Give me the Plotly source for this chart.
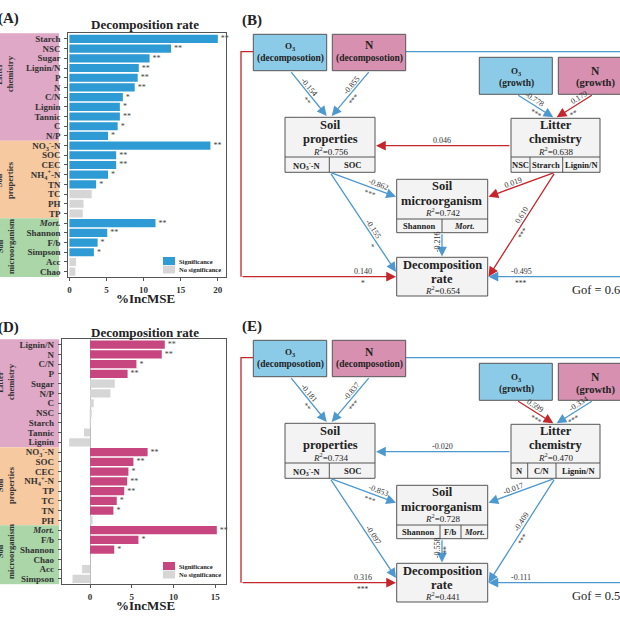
import math
import plotly.graph_objects as go

W, H = 620, 621
FONT = "Liberation Serif"

NO3 = "NO<sub>3</sub><sup>-</sup>-N"
NH4 = "NH<sub>4</sub><sup>+</sup>-N"
MORT = "<i>Mort.</i>"

# (A) %IncMSE for decomposition rate
a_vars = ["Starch", "NSC", "Sugar", "Lignin/N", "P", "N", "C/N", "Lignin", "Tannic", "C", "N/P",
          NO3, "SOC", "CEC", NH4, "TN", "TC", "PH", "TP",
          MORT, "Shannon", "F/b", "Simpson", "Acc", "Chao"]
a_imp = [20.0, 13.7, 10.8, 9.35, 9.2, 8.8, 7.2, 6.8, 6.8, 6.5, 5.2,
         19.0, 6.3, 6.3, 5.2, 3.6, 3.0, 1.9, 1.8,
         11.6, 5.1, 3.8, 3.3, 0.9, 0.8]
a_sig = ["**", "**", "**", "**", "**", "**", "*", "*", "**", "*", "*",
         "**", "**", "**", "*", "*", "", "", "",
         "**", "**", "*", "*", "", ""]

# (D) %IncMSE for decomposition rate
d_vars = ["Lignin/N", "N", "C/N", "P", "Sugar", "N/P", "C", "NSC", "Starch", "Tannic", "Lignin",
          NO3, "SOC", "CEC", NH4, "TP", "TC", "TN", "PH",
          MORT, "F/b", "Shannon", "Chao", "Acc", "Simpson"]
d_imp = [8.96, 8.6, 5.56, 4.5, 2.96, 2.44, 0.44, 0.2, 0.05, -0.72, -2.5,
         6.9, 5.2, 4.6, 4.45, 4.1, 3.2, 2.8, 0.3,
         15.2, 5.8, 2.9, 0.0, -0.95, -2.1]
d_sig = ["**", "**", "*", "**", "", "", "", "", "", "", "",
         "**", "**", "*", "**", "**", "*", "*", "",
         "**", "*", "*", "", "", ""]

groups = ["Litter<br>chemistry", "Soil<br>properties", "Soil<br>microorganism"]
group_sizes = [11, 8, 6]

# (B)/(E) path coefficients: O3d->SP, Nd->SP, O3g->LC, Ng->LC, LC->SP, SP->SM,
# SP->DR, LC->SM, LC->DR, SM->DR, O3d->DR, Nd->DR
b_coef = [-0.154, -0.855, -0.778, 0.179, 0.046, -0.862, -0.155, 0.019, 0.610, -0.216, 0.140, -0.495]
b_sig = ["**", "***", "***", "**", "", "***", "*", "", "***", "", "*", "***"]
e_coef = [-0.181, -0.837, 0.599, -0.334, -0.020, -0.853, -0.097, -0.017, -0.409, -0.558, 0.316, -0.111]
e_sig = ["**", "***", "***", "***", "", "***", "", "", "***", "**", "***", ""]
b_r2 = [0.756, 0.638, 0.742, 0.654]   # soil prop., litter, microorganism, decomposition
e_r2 = [0.734, 0.470, 0.728, 0.441]
b_gof, e_gof = "0.6", "0.5"
b_lc_ind = ["NSC", "Strarch", "Lignin/N"]
e_lc_ind = ["N", "C/N", "Lignin/N"]
b_sm_ind = ["Shannon", MORT]
e_sm_ind = ["Shannon", "F/b", MORT]
sp_ind = [NO3, "SOC"]

BAR_BLUE, BAR_PINK, BAR_GREY = "#2e9bd4", "#c8467f", "#d6d6d6"
RED, BLUE = "#c4262c", "#4d98cf"
BANDS = ["#dfa8c7", "#f6c9a1", "#aad6a8"]

shapes, annots = [], []


def px(x, y, s, size, bold=False, angle=0, color="#222", xanchor="center"):
    annots.append(dict(xref="paper", yref="paper", x=x / W, y=1 - y / H, text=s, showarrow=False,
                       font=dict(family=FONT, size=size, color=color,
                                 weight="bold" if bold else "normal"),
                       textangle=angle, xanchor=xanchor, yanchor="middle"))


fig = go.Figure()
for vars_, imp, sig, col, xa, ya in [(a_vars, a_imp, a_sig, BAR_BLUE, "x", "y"),
                                      (d_vars, d_imp, d_sig, BAR_PINK, "x2", "y2")]:
    fig.add_trace(go.Bar(y=vars_, x=imp, orientation="h", width=0.84,
                         marker=dict(color=[col if s else BAR_GREY for s in sig], line=dict(width=0)),
                         text=sig, textposition="outside", cliponaxis=False, constraintext="none",
                         textfont=dict(family=FONT, size=8, color="#444"),
                         xaxis=xa, yaxis=ya, hoverinfo="skip"))
    # group bands
    bounds = [-0.6, 10.5, 18.5, 24.6]
    for i, c in enumerate(BANDS):
        shapes.append(dict(type="rect", xref="paper", yref=ya, x0=0, x1=59 / W,
                           y0=bounds[i], y1=bounds[i + 1], fillcolor=c, line=dict(width=0), layer="below"))

fig.add_trace(go.Scatter(x=[None], y=[None], xaxis="x3", yaxis="y3", hoverinfo="skip"))

# bar panel texts
for lab, ly, ty, xy, cx, labs in [("(A)", 18, 25, 298, 145, [74, 180, 247]),
                                    ("(D)", 327, 332, 605, 145, [382, 485, 552])]:
    px(-4, ly, "<b>%s</b>" % lab, 15, xanchor="left")
    px(cx, ty, "<b>Decomposition rate</b>", 13)
    px(cx, xy, "<b>%IncMSE</b>", 13)
    for g, yy in zip(groups, labs):
        px(5, yy, "<b>%s</b>" % g, 8.5, angle=-90, color="#333")

# legends
for y0, col in [(257, BAR_BLUE), (562, BAR_PINK)]:
    shapes.append(dict(type="rect", xref="x3", yref="y3", x0=163, x1=175, y0=y0, y1=y0 + 8,
                       fillcolor=col, line=dict(width=0)))
    shapes.append(dict(type="rect", xref="x3", yref="y3", x0=163, x1=175, y0=y0 + 8.5, y1=y0 + 16.5,
                       fillcolor=BAR_GREY, line=dict(width=0)))
    px(177, y0 + 4, "<b>Significance</b>", 6.5, xanchor="left")
    px(177, y0 + 12.5, "<b>No significance</b>", 6.5, xanchor="left")


def box(x0, y0, x1, y1, fill="#f3f3f3"):
    shapes.append(dict(type="rect", xref="x3", yref="y3", x0=x0, y0=y0, x1=x1, y1=y1,
                       fillcolor=fill, line=dict(color="#555", width=1), layer="above"))


def hline(x0, x1, y):
    shapes.append(dict(type="line", xref="x3", yref="y3", x0=x0, x1=x1, y0=y, y1=y,
                       line=dict(color="#555", width=1)))


def vline(x, y0, y1):
    shapes.append(dict(type="line", xref="x3", yref="y3", x0=x, x1=x, y0=y0, y1=y1,
                       line=dict(color="#555", width=1)))


def arrow(tail, head, color):
    annots.append(dict(xref="x3", yref="y3", axref="x3", ayref="y3", x=head[0], y=head[1],
                       ax=tail[0], ay=tail[1], text="", showarrow=True, arrowhead=2,
                       arrowsize=1.5, arrowwidth=1.3, arrowcolor=color, standoff=0))


def label(tail, head, t, ts, val, stars):
    dx, dy = head[0] - tail[0], head[1] - tail[1]
    ang = math.degrees(math.atan2(dy, dx))
    if ang >= 90:
        ang -= 180
    if ang < -90:
        ang += 180
    r = math.radians(ang)
    ux, uy = math.sin(r), -math.cos(r)
    x, y = tail[0] + t * dx, tail[1] + t * dy
    px(x + 5 * ux, y + 5 * uy, "%.3f" % val, 8, angle=ang, color="#333")
    if stars:
        x, y = tail[0] + ts * dx, tail[1] + ts * dy
        px(x - 5 * ux, y - 5 * uy + 1.5, stars, 7.5, angle=ang, color="#333")


# path geometry (panel B frame): tail, head, t value, t stars
geom = [((290, 70.7), (326.7, 116), 0.43, 0.56),
        ((370, 70.7), (331.7, 116), 0.39, 0.53),
        ((516.7, 94.3), (553.3, 117.3), 0.42, 0.6),
        ((593.3, 94.3), (556.7, 117.3), 0.32, 0.6),
        ((511, 145.7), (376, 145.7), 0.51, 0.51),
        ((330, 172.3), (396, 196.7), 0.71, 0.63),
        ((330, 172.3), (396, 272), 0.6, 0.7),
        ((555, 172.3), (488.5, 196.7), 0.6, 0.6),
        ((555, 172.3), (488.5, 276.7), 0.44, 0.54),
        ((442, 232.7), (442, 256.5), 0.4, 0.4),
        ((241, 276.7), (396, 276.7), 0.79, 0.79),
        ((630, 276.7), (488.5, 276.7), 0.77, 0.77)]


def diagram(dy, tag, coef, sig, r2, lc_ind, lc_cuts, sm_ind, sm_cuts, gof):
    Y = lambda v: v + dy
    px(240, Y(20), "<b>%s</b>" % tag, 15, xanchor="left")
    # outer connector lines
    shapes.append(dict(type="path", xref="x3", yref="y3",
                       path="M 253.3,%.1f L 241,%.1f L 241,%.1f" % (Y(51.7), Y(51.7), Y(276.7)),
                       line=dict(color=RED if coef[10] > 0 else BLUE, width=1.3)))
    shapes.append(dict(type="path", xref="x3", yref="y3",
                       path="M 405.7,%.1f L 640,%.1f" % (Y(51.7), Y(51.7)),
                       line=dict(color=RED if coef[11] > 0 else BLUE, width=1.3)))
    # driver boxes
    box(253.3, Y(34.3), 326.7, Y(70.7), "#8ccbe7")
    box(332.3, Y(34.3), 405.7, Y(70.7), "#d890b1")
    box(479.3, Y(57.3), 552.3, Y(94.3), "#8ccbe7")
    box(558.3, Y(57.3), 631.3, Y(94.3), "#d890b1")
    px(290, Y(46), "<b>O<sub>3</sub></b>", 9)
    px(290, Y(58.5), "<b>(decomposotion)</b>", 9.5)
    px(369, Y(45.5), "<b>N</b>", 11.5)
    px(369, Y(58.5), "<b>(decomposotion)</b>", 9.5)
    px(516, Y(71.5), "<b>O<sub>3</sub></b>", 9)
    px(516, Y(83), "<b>(growth)</b>", 9.5)
    px(595, Y(71), "<b>N</b>", 11.5)
    px(595, Y(83.5), "<b>(growth)</b>", 10.5)
    # soil properties
    box(285, Y(117.3), 375, Y(172.3))
    hline(285, 375, Y(157))
    vline(329.3, Y(157), Y(172.3))
    px(330, Y(124.5), "<b>Soil</b>", 12.5)
    px(330, Y(139), "<b>properties</b>", 12.5)
    px(330, Y(151.3), "<i>R</i><sup>2</sup>=%.3f" % r2[0], 9)
    for s, cx in zip(sp_ind, [307, 352]):
        px(cx, Y(165), "<b>%s</b>" % s, 8.5)
    # litter chemistry
    box(511, Y(118.3), 600, Y(172.3))
    hline(511, 600, Y(157))
    edges = [511] + lc_cuts + [600]
    for c in lc_cuts:
        vline(c, Y(157), Y(172.3))
    px(555.5, Y(124.5), "<b>Litter</b>", 12.5)
    px(555.5, Y(139), "<b>chemistry</b>", 12.5)
    px(555.5, Y(151.3), "<i>R</i><sup>2</sup>=%.3f" % r2[1], 9)
    for i, s in enumerate(lc_ind):
        px((edges[i] + edges[i + 1]) / 2, Y(165), "<b>%s</b>" % s, 8.5)
    # soil microorganism
    box(396.7, Y(179.3), 487.7, Y(232.7))
    hline(396.7, 487.7, Y(219))
    edges = [396.7] + sm_cuts + [487.7]
    for c in sm_cuts:
        vline(c, Y(219), Y(232.7))
    px(442.2, Y(185.5), "<b>Soil</b>", 12.5)
    px(442.2, Y(200.5), "<b>microorganism</b>", 12.5)
    px(442.2, Y(212.3), "<i>R</i><sup>2</sup>=%.3f" % r2[2], 9)
    for i, s in enumerate(sm_ind):
        px((edges[i] + edges[i + 1]) / 2, Y(226), "<b>%s</b>" % s, 8.5)
    # decomposition rate
    box(396.7, Y(257.3), 487.7, Y(296))
    px(442.2, Y(264.5), "<b>Decomposition</b>", 12.5)
    px(442.2, Y(278.5), "<b>rate</b>", 12.5)
    px(442.2, Y(290), "<i>R</i><sup>2</sup>=%.3f" % r2[3], 9)
    px(570, Y(289.5), "Gof = %s" % gof, 12.5, xanchor="left")
    # paths
    for (tail, head, t, ts), v, s in zip(geom, coef, sig):
        tl, hd = (tail[0], Y(tail[1])), (head[0], Y(head[1]))
        arrow(tl, hd, RED if v > 0 else BLUE)
        label(tl, hd, t, ts, v, s)


diagram(0, "(B)", b_coef, b_sig, b_r2, b_lc_ind, [530, 562.7], b_sm_ind, [442], b_gof)
diagram(306, "(E)", e_coef, e_sig, e_r2, e_lc_ind, [527.7, 556], e_sm_ind, [440, 461], e_gof)

tickf = dict(family=FONT, size=9, color="#333", weight="bold")
axis_common = dict(showline=True, mirror=True, linecolor="#555", linewidth=0.8, showgrid=False,
                   ticks="outside", ticklen=3, tickcolor="#555", tickfont=tickf, fixedrange=True)

fig.update_layout(
    width=W, height=H, margin=dict(l=0, r=0, t=0, b=0, pad=0),
    paper_bgcolor="white", plot_bgcolor="rgba(0,0,0,0)", showlegend=False,
    xaxis=dict(domain=[68.3 / W, 226 / W], range=[-0.15, 21.1], anchor="y", tickvals=[0, 5, 10, 15, 20],
               zeroline=False, ticklabelstandoff=1, **axis_common),
    yaxis=dict(domain=[1 - 277 / H, 1 - 33.3 / H], anchor="x", type="category", categoryorder="array",
               categoryarray=a_vars, tickmode="array", tickvals=a_vars, ticktext=a_vars,
               range=[24.55, -0.58], ticklabelstandoff=2, **axis_common),
    xaxis2=dict(domain=[61.7 / W, 226 / W], range=[-3.4, 16.3], anchor="y2", tickvals=[0, 5, 10, 15],
                zeroline=True, zerolinecolor="#bbb", zerolinewidth=0.8, ticklabelstandoff=1, **axis_common),
    yaxis2=dict(domain=[1 - 584.3 / H, 1 - 339.3 / H], anchor="x2", type="category", categoryorder="array",
                categoryarray=d_vars, tickmode="array", tickvals=d_vars, ticktext=d_vars,
                range=[24.55, -0.55], ticklabelstandoff=2, **axis_common),
    xaxis3=dict(domain=[0, 1], range=[0, W], anchor="y3", visible=False, fixedrange=True),
    yaxis3=dict(domain=[0, 1], range=[H, 0], anchor="x3", visible=False, fixedrange=True),
    shapes=shapes, annotations=annots,
)

fig.write_html("out.html", config={"displayModeBar": False},
               post_script="document.body.style.margin='0px';document.body.style.overflow='hidden';")
